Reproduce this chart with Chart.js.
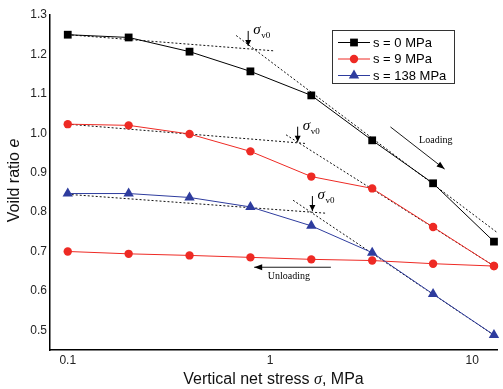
<!DOCTYPE html>
<html><head><meta charset="utf-8">
<script src="https://cdn.jsdelivr.net/npm/chart.js@4/dist/chart.umd.min.js"></script>
<style>html,body{margin:0;padding:0;background:#fff;}</style>
</head><body>
<canvas id="c" width="503" height="389"></canvas>
<script>
// ---- data ----
const stress = [0.1, 0.2, 0.4, 0.8, 1.6, 3.2, 6.4, 12.8];          // MPa
const e_s0 = [1.250, 1.243, 1.207, 1.157, 1.096, 0.982, 0.873, 0.725];
const e_s9_load = [1.023, 1.020, 0.998, 0.954, 0.890, 0.860, 0.762, 0.663];
const e_s9_unload = [0.700, 0.694, 0.690, 0.685, 0.680, 0.677, 0.669, 0.663];
const e_s138 = [0.847, 0.847, 0.837, 0.813, 0.765, 0.697, 0.592, 0.488];
const seriesNames = ['s = 0 MPa', 's = 9 MPa', 's = 138 MPa'];
const xTickValues = [0.1, 1, 10];
const yTickValues = [0.5, 0.6, 0.7, 0.8, 0.9, 1.0, 1.1, 1.2, 1.3];
// Casagrande construction lines (stress, void ratio end points)
const guideS0RecompX = [0.1, 1.05],  guideS0RecompY = [1.250, 1.209];
const guideS0VirginX = [0.68, 13.2], guideS0VirginY = [1.248, 0.749];
const guideS9RecompX = [0.1, 1.5],   guideS9RecompY = [1.023, 0.974];
const guideS9VirginX = [1.2, 13.2],  guideS9VirginY = [0.996, 0.659];
const guideS138RecompX = [0.1, 1.9], guideS138RecompY = [0.845, 0.797];
const guideS138VirginX = [1.3, 13.2], guideS138VirginY = [0.830, 0.483];
// yield (preconsolidation) points marked with sigma_v0
const yieldX = [0.78, 1.37, 1.62];
const yieldY = [1.219, 0.976, 0.800];

const BLACK = '#000000', RED = '#ee2a24', BLUE = '#2e3c9e';
const pts = (xs, ys) => xs.map((x, i) => ({x: x, y: ys[i]}));

function series(label, ys, color, style, r) {
  return {label, data: pts(stress, ys), borderColor: color, backgroundColor: color,
    borderWidth: 1, pointStyle: style, pointRadius: r, pointHoverRadius: r,
    pointBorderWidth: 0, tension: 0, clip: false};
}
function guide(xs, ys) {
  return {label: '', data: pts(xs, ys), borderColor: '#111', borderWidth: 1,
    borderDash: [2, 2], pointRadius: 0, pointHoverRadius: 0, fill: false, clip: false};
}

const datasets = [
  series(seriesNames[0], e_s0, BLACK, 'rect', 5.5),
  series(seriesNames[1], e_s9_load, RED, 'circle', 4.2),
  series(seriesNames[2], e_s138, BLUE, 'triangle', 6),
  series('', e_s9_unload, RED, 'circle', 4.2),
  guide(guideS0RecompX, guideS0RecompY), guide(guideS0VirginX, guideS0VirginY),
  guide(guideS9RecompX, guideS9RecompY), guide(guideS9VirginX, guideS9VirginY),
  guide(guideS138RecompX, guideS138RecompY), guide(guideS138VirginX, guideS138VirginY)
];

function arrow(ctx, x1, y1, x2, y2, head, w) {
  ctx.beginPath(); ctx.moveTo(x1, y1); ctx.lineTo(x2, y2); ctx.stroke();
  const a = Math.atan2(y2 - y1, x2 - x1);
  ctx.beginPath();
  ctx.moveTo(x2, y2);
  ctx.lineTo(x2 - head * Math.cos(a) + w * Math.sin(a), y2 - head * Math.sin(a) - w * Math.cos(a));
  ctx.lineTo(x2 - head * Math.cos(a) - w * Math.sin(a), y2 - head * Math.sin(a) + w * Math.cos(a));
  ctx.closePath(); ctx.fill();
}

function drawSegments(ctx, segs, cx, cy) {
  let total = 0;
  segs.forEach(s => { ctx.font = s.font; total += ctx.measureText(s.t).width; });
  let x = cx - total / 2;
  segs.forEach(s => { ctx.font = s.font; ctx.fillText(s.t, x, cy); x += ctx.measureText(s.t).width; });
}

const annotPlugin = {
  id: 'annot',
  afterDatasetsDraw(chart) {
    const ctx = chart.ctx, xs = chart.scales.x, ys = chart.scales.y;
    ctx.save();
    ctx.strokeStyle = '#000'; ctx.fillStyle = '#000'; ctx.lineWidth = 1;
    // sigma_v0 markers
    yieldX.forEach((v, i) => {
      const px = xs.getPixelForValue(v), py = ys.getPixelForValue(yieldY[i]);
      arrow(ctx, px, py - 16, px, py - 1, 6, 3);
      ctx.textBaseline = 'alphabetic'; ctx.textAlign = 'left';
      ctx.font = 'italic 15px "Liberation Serif", serif';
      ctx.fillText('σ', px + 5, py - 13);
      ctx.font = '9px "Liberation Serif", serif';
      ctx.fillText('v0', px + 13, py - 9);
    });
    // Loading arrow
    ctx.lineWidth = 0.9;
    arrow(ctx, xs.getPixelForValue(3.94), ys.getPixelForValue(1.016),
               xs.getPixelForValue(7.3), ys.getPixelForValue(0.909), 8, 3);
    ctx.font = '10px "Liberation Serif", serif'; ctx.textAlign = 'center'; ctx.textBaseline = 'middle';
    ctx.fillText('Loading', xs.getPixelForValue(6.6), ys.getPixelForValue(0.983));
    // Unloading arrow
    arrow(ctx, xs.getPixelForValue(2.0), ys.getPixelForValue(0.660),
               xs.getPixelForValue(0.835), ys.getPixelForValue(0.660), 8, 3);
    ctx.fillText('Unloading', xs.getPixelForValue(1.24), ys.getPixelForValue(0.637));
    ctx.restore();
  },
  afterDraw(chart) {
    const ctx = chart.ctx, ca = chart.chartArea;
    ctx.save();
    ctx.fillStyle = '#111'; ctx.textBaseline = 'middle'; ctx.textAlign = 'left';
    // axis titles with italic symbols
    drawSegments(ctx, [
      {t: 'Vertical net stress ', font: '16px "Liberation Sans", Arial, sans-serif'},
      {t: 'σ', font: 'italic 16px "Liberation Serif", serif'},
      {t: ', MPa', font: '16px "Liberation Sans", Arial, sans-serif'}
    ], (ca.left + ca.right) / 2, 380);
    ctx.save();
    ctx.translate(15, (ca.top + ca.bottom) / 2 - 2);
    ctx.rotate(-Math.PI / 2);
    drawSegments(ctx, [
      {t: 'Voild ratio ', font: '16px "Liberation Sans", Arial, sans-serif'},
      {t: 'e', font: 'italic 16px "Liberation Sans", Arial, sans-serif'}
    ], 0, 0);
    ctx.restore();
    // legend
    const bx = 332, by = 30, bw = 122, bh = 53;
    ctx.fillStyle = '#fff'; ctx.fillRect(bx, by, bw, bh);
    ctx.strokeStyle = '#333'; ctx.lineWidth = 1; ctx.strokeRect(bx + 0.5, by + 0.5, bw, bh);
    for (let i = 0; i < 3; i++) {
      const ds = chart.data.datasets[i];
      const y = by + 12.5 + i * 16.5;
      ctx.strokeStyle = ds.borderColor; ctx.lineWidth = 1;
      ctx.beginPath(); ctx.moveTo(bx + 6, y); ctx.lineTo(bx + 38, y); ctx.stroke();
      ctx.fillStyle = ds.backgroundColor;
      Chart.helpers.drawPoint(ctx, {pointStyle: ds.pointStyle, radius: ds.pointRadius, borderWidth: 0}, bx + 22, y);
      ctx.fillStyle = '#000'; ctx.font = '13px "Liberation Sans", Arial, sans-serif';
      ctx.textAlign = 'left'; ctx.textBaseline = 'middle';
      ctx.fillText(ds.label, bx + 41, y + 0.5);
    }
    ctx.restore();
  }
};

new Chart(document.getElementById('c'), {
  type: 'line',
  data: {datasets},
  options: {
    responsive: false, animation: false, devicePixelRatio: 1,
    layout: {padding: {top: 15, right: 0, left: 0, bottom: 0}},
    plugins: {legend: {display: false}, tooltip: {enabled: false}},
    scales: {
      x: {
        type: 'logarithmic', position: 'bottom', min: 0.0817, max: 13.25,
        grid: {display: false, drawTicks: false},
        border: {display: true, color: '#000', width: 1.5},
        afterBuildTicks: s => { s.ticks = xTickValues.map(v => ({value: v})); },
        afterFit: s => { s.height = 39; },
        ticks: {autoSkip: false, maxRotation: 0, padding: 3, color: '#222',
          font: {size: 12, family: '"Liberation Sans", Arial, sans-serif'},
          callback: v => String(v)}
      },
      y: {
        type: 'linear', min: 0.45, max: 1.3,
        grid: {display: false, drawTicks: false},
        border: {display: true, color: '#000', width: 1.5},
        afterBuildTicks: s => { s.ticks = yTickValues.map(v => ({value: v})); },
        afterFit: s => { s.width = 50; },
        ticks: {autoSkip: false, padding: 3, color: '#222',
          font: {size: 12, family: '"Liberation Sans", Arial, sans-serif'},
          callback: v => Number(v).toFixed(1)}
      }
    }
  },
  plugins: [annotPlugin]
});
</script>
</body></html>
